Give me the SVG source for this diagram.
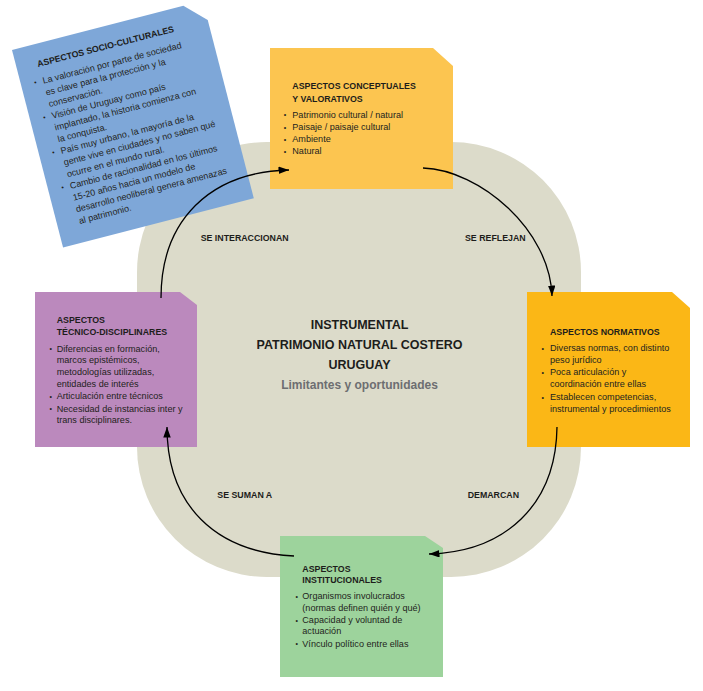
<svg xmlns="http://www.w3.org/2000/svg" width="703" height="691" viewBox="0 0 703 691">
<defs>
<style>
.t{font-family:"Liberation Sans",Arial,sans-serif;font-size:8.8px;font-weight:bold;fill:#1d1d1b}
.b{font-family:"Liberation Sans",Arial,sans-serif;font-size:9.1px;fill:#231f20}
.d{font-family:"Liberation Sans",Arial,sans-serif;font-size:7px;fill:#231f20;text-anchor:middle}
.c{font-family:"Liberation Sans",Arial,sans-serif;font-size:12.5px;font-weight:bold;fill:#1d1d1b;text-anchor:middle}
.s{font-family:"Liberation Sans",Arial,sans-serif;font-size:12px;font-weight:bold;fill:#6d6e71;text-anchor:middle}
.con{fill:none;stroke:#000;stroke-width:1.3;marker-end:url(#ah)}
</style>
<marker id="ah" markerUnits="userSpaceOnUse" markerWidth="11" markerHeight="8" refX="10.5" refY="3.75" orient="auto">
<path d="M0,0 L10.5,3.75 L0,7.5 z" fill="#000"/>
</marker>
</defs>
<rect width="703" height="691" fill="#fff"/>
<g id="background">
<rect x="137" y="142" width="444" height="435" rx="130" ry="130" fill="#dcdbca"/>
</g>
<g id="center">
<text class="c" x="359.5" y="329">INSTRUMENTAL</text>
<text class="c" x="359.5" y="349">PATRIMONIO NATURAL COSTERO</text>
<text class="c" x="359.5" y="369">URUGUAY</text>
<text class="s" x="359.5" y="389">Limitantes y oportunidades</text>
</g>
<g id="socio-culturales" transform="translate(12,50) rotate(-14.5)">
<polygon points="0,0 177,0 197,20 197,204 0,204" fill="#7ea7d8"/>
<text class="t" x="21" y="23">ASPECTOS SOCIO-CULTURALES</text>
<text class="d" x="14.5" y="39.5">•</text>
<text class="d" x="14.5" y="75.7">•</text>
<text class="d" x="14.5" y="111.9">•</text>
<text class="d" x="14.5" y="148.1">•</text>
<text class="b" style="font-size:9px" x="22" y="40.6">La valoración por parte de sociedad</text>
<text class="b" style="font-size:9px" x="22" y="52.7">es clave para la protección y la</text>
<text class="b" style="font-size:9px" x="22" y="64.7">conservación.</text>
<text class="b" style="font-size:9px" x="22" y="76.8">Visión de Uruguay como país</text>
<text class="b" style="font-size:9px" x="22" y="88.9">implantado, la historia comienza con</text>
<text class="b" style="font-size:9px" x="22" y="100.9">la conquista.</text>
<text class="b" style="font-size:9px" x="22" y="113">País muy urbano, la mayoría de la</text>
<text class="b" style="font-size:9px" x="22" y="125.1">gente vive en ciudades y no saben qué</text>
<text class="b" style="font-size:9px" x="22" y="137.2">ocurre en el mundo rural.</text>
<text class="b" style="font-size:9px" x="22" y="149.2">Cambio de racionalidad en los últimos</text>
<text class="b" style="font-size:9px" x="22" y="161.3">15-20 años hacia un modelo de</text>
<text class="b" style="font-size:9px" x="22" y="173.4">desarrollo neoliberal genera amenazas</text>
<text class="b" style="font-size:9px" x="22" y="185.4">al patrimonio.</text>
</g>
<g id="conceptuales">
<polygon points="270,48 433,48 453,66 453,189 270,189" fill="#fcc550"/>
<text class="t" x="292.3" y="89.3">ASPECTOS CONCEPTUALES</text>
<text class="t" x="292.3" y="101.7">Y VALORATIVOS</text>
<text class="d" x="285" y="117.2">•</text>
<text class="d" x="285" y="129.5">•</text>
<text class="d" x="285" y="141.8">•</text>
<text class="d" x="285" y="153.8">•</text>
<text class="b" x="292.3" y="117.7">Patrimonio cultural / natural</text>
<text class="b" x="292.3" y="130">Paisaje / paisaje cultural</text>
<text class="b" x="292.3" y="142.3">Ambiente</text>
<text class="b" x="292.3" y="154.3">Natural</text>
</g>
<g id="normativos">
<polygon points="527,292 672,292 690,308 690,447 527,447" fill="#fbb716"/>
<text class="t" x="550" y="335">ASPECTOS NORMATIVOS</text>
<text class="d" x="542.7" y="350.5">•</text>
<text class="d" x="542.7" y="374.5">•</text>
<text class="d" x="542.7" y="399.5">•</text>
<text class="b" x="550" y="351">Diversas normas, con distinto</text>
<text class="b" x="550" y="363">peso jurídico</text>
<text class="b" x="550" y="375">Poca articulación y</text>
<text class="b" x="550" y="387.3">coordinación entre ellas</text>
<text class="b" x="550" y="400">Establecen competencias,</text>
<text class="b" x="550" y="412">instrumental y procedimientos</text>
</g>
<g id="tecnico-disciplinares">
<polygon points="35,292 180,292 197,305 197,447 35,447" fill="#bb89bd"/>
<text class="t" x="56.7" y="323.3">ASPECTOS</text>
<text class="t" x="56.7" y="335">TÉCNICO-DISCIPLINARES</text>
<text class="d" x="50.7" y="351.2">•</text>
<text class="d" x="50.7" y="398.8">•</text>
<text class="d" x="50.7" y="411.2">•</text>
<text class="b" x="56.7" y="351.7">Diferencias en formación,</text>
<text class="b" x="56.7" y="363.3">marcos epistémicos,</text>
<text class="b" x="56.7" y="375">metodologías utilizadas,</text>
<text class="b" x="56.7" y="386.7">entidades de interés</text>
<text class="b" x="56.7" y="399.3">Articulación entre técnicos</text>
<text class="b" x="56.7" y="411.7">Necesidad de instancias inter y</text>
<text class="b" x="56.7" y="423.3">trans disciplinares.</text>
</g>
<g id="institucionales">
<polygon points="280,536 425,536 443,548 443,677 280,677" fill="#9dd39c"/>
<text class="t" x="302.3" y="571.7">ASPECTOS</text>
<text class="t" x="302.3" y="583.3">INSTITUCIONALES</text>
<text class="d" x="296.7" y="598.8">•</text>
<text class="d" x="296.7" y="622.8">•</text>
<text class="d" x="296.7" y="646.2">•</text>
<text class="b" x="302.3" y="599.3">Organismos involucrados</text>
<text class="b" x="302.3" y="611">(normas definen quién y qué)</text>
<text class="b" x="302.3" y="623.3">Capacidad y voluntad de</text>
<text class="b" x="302.3" y="634.3">actuación</text>
<text class="b" x="302.3" y="646.7">Vínculo político entre ellas</text>
</g>
<g id="connectors">
<path class="con" d="M161,298 C161,220 210,172 289,170"/>
<path class="con" d="M423,168 C480,170 550,230 552,296"/>
<path class="con" d="M557,427 C556,505 505,552 429,554"/>
<path class="con" d="M294,556 C215,552 167,505 167,427"/>
<text class="t" x="200.7" y="241">SE INTERACCIONAN</text>
<text class="t" x="465" y="241">SE REFLEJAN</text>
<text class="t" x="217.3" y="497.7">SE SUMAN A</text>
<text class="t" x="467.7" y="497.7">DEMARCAN</text>
</g>
</svg>
